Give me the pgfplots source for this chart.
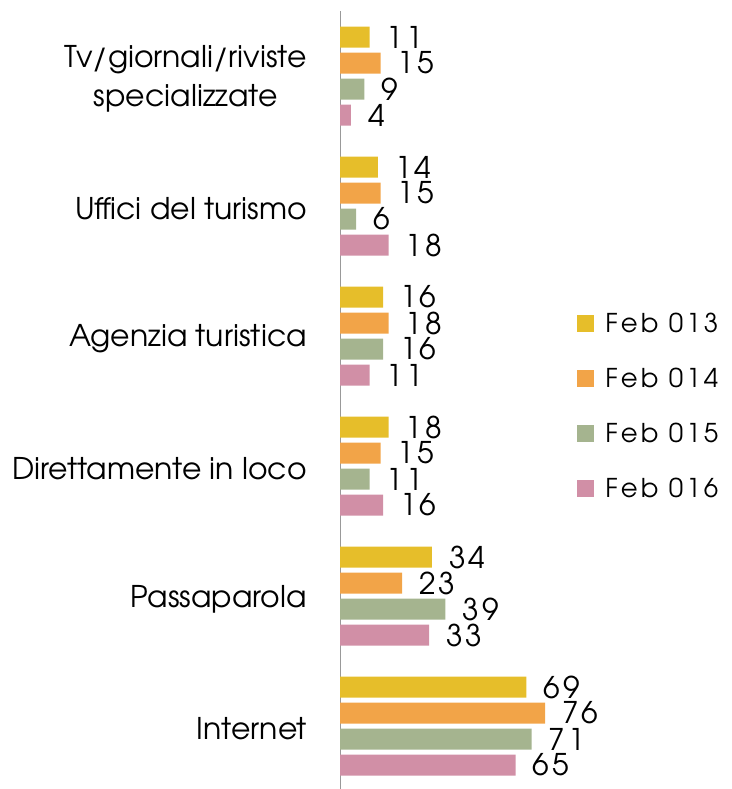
\documentclass[border=0pt]{standalone}
\usepackage{fontspec}
\setmainfont{TeX Gyre Adventor}
\newfontfamily\legfont[LetterSpace=12]{TeX Gyre Adventor}
\newfontfamily\numfont[LetterSpace=10]{TeX Gyre Adventor}
\usepackage{pgfplots}
\pgfplotsset{compat=1.18}
\definecolor{cA}{RGB}{230,190,42}
\definecolor{cB}{RGB}{242,164,72}
\definecolor{cC}{RGB}{165,180,143}
\definecolor{cD}{RGB}{209,143,166}
\begin{document}
\begin{tikzpicture}[x=1bp,y=1bp]
\begin{axis}[
  at={(340bp,-11bp)}, anchor=north west,
  scale only axis, width=270bp, height=780bp,
  xmin=0, xmax=100, ymin=-0.5, ymax=5.5, y dir=reverse,
  axis x line=none, axis y line*=left,
  y axis line style={draw=black!40, line width=1bp, -},
  ytick={0,1,2,3,4,5},
  yticklabels={{Tv/giornali/riviste\\specializzate},{Uffici del turismo},{Agenzia turistica},{Direttamente in loco},{Passaparola},{Internet}},
  major tick length=0pt,
  yticklabel style={align=center, inner sep=0pt, xshift=-33bp, yshift=-3bp, font=\fontsize{30}{39}\selectfont},
  /pgf/number format/assume math mode=true,
  xbar, bar width=21bp,
  nodes near coords,
  nodes near coords style={anchor=west, inner sep=0pt, xshift=17bp, font=\numfont\fontsize{30}{32}\selectfont, text=black},
  legend style={draw=none, fill=none, at={(0.878,0.613)}, anchor=north west, inner sep=0pt, row sep=34bp,
    nodes={inner sep=0pt, font=\legfont\fontsize{26}{26}\selectfont}},
  legend cell align=left,
  legend image code/.code={\fill[#1] (0bp,-8.5bp) rectangle (17bp,8.5bp); \path (28bp,0bp);},
]
\addplot[fill=cA, draw=none, bar shift=39bp] coordinates {(11,0) (14,1) (16,2) (18,3) (34,4) (69,5)};
\addplot[fill=cB, draw=none, bar shift=13bp] coordinates {(15,0) (15,1) (18,2) (15,3) (23,4) (76,5)};
\addplot[fill=cC, draw=none, bar shift=-13bp] coordinates {(9,0) (6,1) (16,2) (11,3) (39,4) (71,5)};
\addplot[fill=cD, draw=none, bar shift=-39bp] coordinates {(4,0) (18,1) (11,2) (16,3) (33,4) (65,5)};
\legend{Feb 013, Feb 014, Feb 015, Feb 016}
\end{axis}
\pgfresetboundingbox
\path[use as bounding box] (0,0) rectangle (732,-789);
\end{tikzpicture}
\end{document}
